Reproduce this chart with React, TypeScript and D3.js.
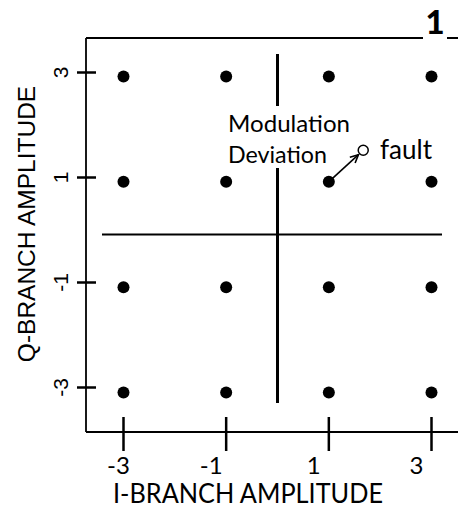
import React from "react";
import * as d3 from "d3";

const iLevels = [-3, -1, 1, 3];
const qLevels = [-3, -1, 1, 3];
const xTickLabels = ["-3", "-1", "1", "3"];
const yTickLabels = ["-3", "-1", "1", "3"];
const xTitle = "I-BRANCH AMPLITUDE";
const yTitle = "Q-BRANCH AMPLITUDE";
const annotationLines = ["Modulation", "Deviation"];
const faultLabel = "fault";
const faultPoint = { i: 1, q: 1 };
const faultOffset = { di: 0.67, dq: 0.6 };
const panelLabel = "1";

export default function App() {
  const W = 458, H = 508;
  const x = d3.scaleLinear().domain([-3, 3]).range([123.5, 431.5]);
  const y = d3.scaleLinear().domain([-3, 3]).range([392.5, 76.5]);
  const yTick = d3.scaleLinear().domain([-3, 3]).range([387.5, 72.5]);

  const left = 86, top = 38, bottom = 432;
  const calibri = "Lato, 'Open Sans', sans-serif";
  const arial = "'Liberation Sans', Arial, sans-serif";

  const fx = x(faultPoint.i + faultOffset.di);
  const fy = y(faultPoint.q + faultOffset.dq);
  const sx = x(faultPoint.i), sy = y(faultPoint.q);
  const ang = Math.atan2(fy - sy, fx - sx);
  const r = 5;
  const ax0 = sx + Math.cos(ang) * 5, ay0 = sy + Math.sin(ang) * 5;
  const ax1 = fx - Math.cos(ang) * (r + 1.5), ay1 = fy - Math.sin(ang) * (r + 1.5);
  const hl = 9, ha = 0.45;
  const h1 = [ax1 - hl * Math.cos(ang - ha), ay1 - hl * Math.sin(ang - ha)];
  const h2 = [ax1 - hl * Math.cos(ang + ha), ay1 - hl * Math.sin(ang + ha)];

  return (
    <svg width={W} height={H} style={{ position: "absolute", left: 0, top: 0, background: "#fff" }}>
      {/* frame */}
      <line x1={left} x2={W} y1={top} y2={top} stroke="#000" strokeWidth={1.8} />
      <line x1={left} x2={left} y1={top} y2={bottom} stroke="#000" strokeWidth={1.8} />
      <line x1={left} x2={W} y1={bottom} y2={bottom} stroke="#000" strokeWidth={1.8} />
      {/* panel label */}
      <rect x={423} y={35} width={24} height={6} fill="#fff" />
      <text x={435} y={34} textAnchor="middle" fontFamily={calibri} fontWeight={900} fontSize={33}>{panelLabel}</text>

      {/* crosshair */}
      <line x1={x(0)} x2={x(0)} y1={54} y2={403} stroke="#000" strokeWidth={3} />
      <line x1={102} x2={442} y1={y(0)} y2={y(0)} stroke="#000" strokeWidth={2} />

      {/* y ticks */}
      {qLevels.map((q, k) => (
        <g key={"yt" + k}>
          <line x1={77} x2={96} y1={yTick(q)} y2={yTick(q)} stroke="#000" strokeWidth={2.5} />
          <text transform={`translate(68,${yTick(q)}) rotate(-90)`} textAnchor="middle" fontFamily={arial} fontSize={21}>{yTickLabels[k]}</text>
        </g>
      ))}
      {/* x ticks */}
      {iLevels.map((v, k) => (
        <g key={"xt" + k}>
          <line x1={x(v)} x2={x(v)} y1={417} y2={451} stroke="#000" strokeWidth={2.5} />
          <text x={x(v) - (k === 0 ? 5 : 15)} y={474} textAnchor="middle" fontFamily={calibri} fontSize={24}>{xTickLabels[k]}</text>
        </g>
      ))}

      {/* titles */}
      <text x={248} y={503} textAnchor="middle" fontFamily={calibri} fontSize={26} textLength={270} lengthAdjust="spacingAndGlyphs">{xTitle}</text>
      <text transform="translate(35,224) rotate(-90)" textAnchor="middle" fontFamily={arial} fontSize={24.5}>{yTitle}</text>

      {/* annotation box */}
      <rect x={222} y={106} width={132} height={62} fill="#fff" />
      <text x={228} y={132} fontFamily={calibri} fontSize={24} textLength={122} lengthAdjust="spacingAndGlyphs">{annotationLines[0]}</text>
      <text x={228} y={163} fontFamily={calibri} fontSize={24} textLength={99} lengthAdjust="spacingAndGlyphs">{annotationLines[1]}</text>

      {/* constellation points */}
      {qLevels.map((q) =>
        iLevels.map((v) => (
          <circle key={`p${v}_${q}`} cx={x(v)} cy={y(q)} r={6} fill="#000" />
        ))
      )}

      {/* fault */}
      <line x1={ax0} y1={ay0} x2={ax1} y2={ay1} stroke="#000" strokeWidth={1.6} />
      <polyline points={`${h1[0]},${h1[1]} ${ax1},${ay1} ${h2[0]},${h2[1]}`} fill="none" stroke="#000" strokeWidth={1.6} />
      <circle cx={fx} cy={fy} r={r} fill="#fff" stroke="#000" strokeWidth={1.5} />
      <text x={380} y={159} fontFamily={calibri} fontSize={26} textLength={52} lengthAdjust="spacingAndGlyphs">{faultLabel}</text>
    </svg>
  );
}
